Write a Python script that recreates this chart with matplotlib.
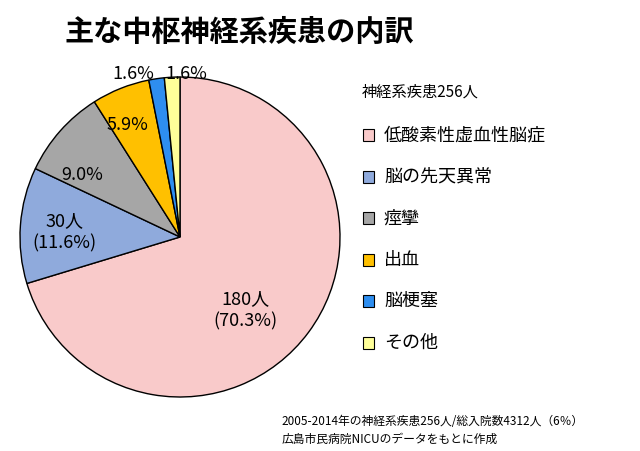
import matplotlib.pyplot as plt
from matplotlib.patches import Rectangle

plt.rcParams["font.family"] = "Noto Sans CJK JP"

categories = ["低酸素性虚血性脳症", "脳の先天異常", "痙攣", "出血", "脳梗塞", "その他"]
counts = [180, 30, 23, 15, 4, 4]
pct_labels = ["180人\n(70.3%)", "30人\n(11.6%)", "9.0%", "5.9%", "1.6%", "1.6%"]
colors = ["#F9CACA", "#8FAADC", "#A6A6A6", "#FFC000", "#2E8EF0", "#FFFF99"]
# ラベル位置（円の半径=1 基準）
label_pos = [(0.41, -0.46), (-0.72, 0.03), (-0.61, 0.39), (-0.33, 0.70), (-0.29, 1.02), (0.04, 1.02)]

fig = plt.figure(figsize=(6.4, 4.51), dpi=100)
ax = fig.add_axes([20 / 640, 54 / 451, 320 / 640, 320 / 451])
ax.pie(counts, colors=colors, startangle=90, counterclock=False,
       wedgeprops=dict(edgecolor="black", linewidth=1))
ax.set_xlim(-1, 1)
ax.set_ylim(-1, 1)
ax.set_aspect("equal")
ax.axis("off")

for lab, (x, y) in zip(pct_labels, label_pos):
    ax.text(x, y, lab, ha="center", va="center", fontsize=13, linespacing=1.3,
            clip_on=False)

fig.text(0.1, 0.93, "主な中枢神経系疾患の内訳", fontsize=21, fontweight="bold",
         va="center")
fig.text(0.565, 0.795, "神経系疾患256人", fontsize=11, va="center")

y0 = 0.70
for i, (name, col) in enumerate(zip(categories, colors)):
    y = y0 - i * 0.092
    fig.patches.append(Rectangle((0.567, y - 0.013), 0.018, 0.026, transform=fig.transFigure,
                                 facecolor=col, edgecolor="black", linewidth=0.8))
    fig.text(0.6, y, name, fontsize=13, va="center")

fig.text(0.44, 0.065, "2005-2014年の神経系疾患256人/総入院数4312人（6％）", fontsize=8.5, va="center")
fig.text(0.44, 0.025, "広島市民病院NICUのデータをもとに作成", fontsize=8.5, va="center")

fig.savefig("out.png", dpi=100)
